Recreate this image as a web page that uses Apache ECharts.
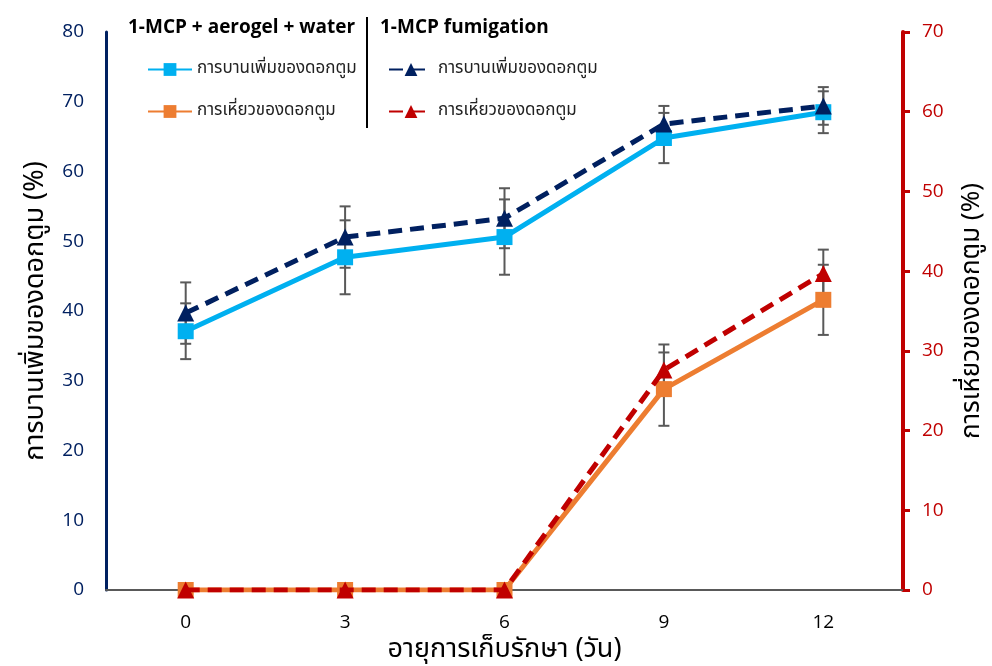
<!DOCTYPE html>
<html>
<head>
<meta charset="utf-8">
<script src="https://cdn.jsdelivr.net/npm/echarts@6/dist/echarts.min.js"></script>
<style>
  html, body { margin: 0; padding: 0; background: #fff; }
  #chart { width: 992px; height: 666px; }
</style>
</head>
<body>
<div id="chart"></div>
<script>
// Storage days
const days = ['0', '3', '6', '9', '12'];

// Bud opening (%), left axis
const openAerogel = [37.1, 47.7, 50.6, 64.8, 68.5];
const openAerogelErr = [4.0, 5.3, 5.4, 3.6, 3.0];
const openFumigation = [39.7, 50.6, 53.3, 66.8, 69.4];
const openFumigationErr = [4.4, 4.4, 4.3, 2.6, 2.7];

// Bud wilting (%), right axis
const wiltAerogel = [0, 0, 0, 25.2, 36.4];
const wiltAerogelErr = [0, 0, 0, 4.6, 4.4];
const wiltFumigation = [0, 0, 0, 27.6, 39.7];
const wiltFumigationErr = [0, 0, 0, 3.2, 3.0];

const leftTicks = { min: 0, max: 80, interval: 10 };
const rightTicks = { min: 0, max: 70, interval: 10 };

const labelOpen = 'การบานเพิ่มของดอกตูม';
const labelWilt = 'การเหี่ยวของดอกตูม';
const groupAerogel = '1-MCP + aerogel + water';
const groupFumigation = '1-MCP fumigation';

const numFont = '"Open Sans", "Liberation Sans", sans-serif';
const thaiFont = '"Noto Sans Thai", "Noto Sans", "Open Sans", sans-serif';

const C_BLUE = '#00B0F0', C_NAVY = '#002060', C_ORANGE = '#ED7D31', C_RED = '#C00000';

function errData(vals, errs) {
  return vals.map((v, i) => [i, v, errs[i]]);
}

function errorBars(yAxisIndex, vals, errs) {
  return {
    type: 'custom',
    yAxisIndex: yAxisIndex,
    z: 1,
    silent: true,
    data: errData(vals, errs),
    renderItem: function (params, api) {
      const x = api.value(0), y = api.value(1), e = api.value(2);
      if (!e) return null;
      const top = api.coord([x, y + e]);
      const bot = api.coord([x, y - e]);
      const w = 5.5;
      const style = { stroke: '#595959', lineWidth: 2 };
      return {
        type: 'group',
        children: [
          { type: 'line', shape: { x1: top[0], y1: top[1], x2: bot[0], y2: bot[1] }, style: style },
          { type: 'line', shape: { x1: top[0] - w, y1: top[1], x2: top[0] + w, y2: top[1] }, style: style },
          { type: 'line', shape: { x1: bot[0] - w, y1: bot[1], x2: bot[0] + w, y2: bot[1] }, style: style }
        ]
      };
    }
  };
}

function lineSeries(name, yAxisIndex, data, color, dashed, symbol) {
  return {
    name: name,
    type: 'line',
    yAxisIndex: yAxisIndex,
    data: data,
    z: dashed ? 4 : 3,
    symbol: symbol,
    symbolSize: symbol === 'rect' ? 16 : 17,
    itemStyle: { color: color },
    lineStyle: { color: color, width: 5, type: dashed ? [14, 8] : 'solid' },
    emphasis: { disabled: true }
  };
}

const nameA_open = 'A|' + labelOpen, nameA_wilt = 'A|' + labelWilt;
const nameF_open = 'F|' + labelOpen, nameF_wilt = 'F|' + labelWilt;

const legendCommon = {
  orient: 'vertical',
  itemWidth: 44,
  itemHeight: 16,
  itemGap: 25,
  formatter: n => n.split('|')[1],
  textStyle: { fontFamily: thaiFont, fontSize: 17, color: '#222' },
  selectedMode: false
};

const chart = echarts.init(document.getElementById('chart'), null, { renderer: 'canvas' });
chart.setOption({
  animation: false,
  backgroundColor: '#fff',
  grid: { left: 106, right: 89, top: 32, bottom: 76, containLabel: false, outerBoundsMode: 'none' },
  legend: [
    Object.assign({}, legendCommon, { data: [nameA_open, nameA_wilt], left: 142, top: 56 }),
    Object.assign({}, legendCommon, { data: [nameF_open, nameF_wilt], left: 383, top: 56 })
  ],
  graphic: [
    { type: 'text', left: 128, top: 18, style: { text: groupAerogel, font: 'bold 19px ' + numFont, fill: '#000' } },
    { type: 'text', left: 380, top: 18, style: { text: groupFumigation, font: 'bold 19px ' + numFont, fill: '#000' } },
    { type: 'line', shape: { x1: 367, y1: 17, x2: 367, y2: 128 }, style: { stroke: '#000', lineWidth: 2 } }
  ],
  xAxis: {
    type: 'category',
    data: days,
    boundaryGap: true,
    axisLine: { lineStyle: { color: '#595959', width: 2 } },
    axisTick: { show: false },
    axisLabel: { fontFamily: numFont, fontSize: 19, color: '#000', margin: 23 },
    name: 'อายุการเก็บรักษา (วัน)',
    nameLocation: 'middle',
    nameGap: 48,
    nameTextStyle: { fontFamily: thaiFont, fontSize: 27, color: '#000' }
  },
  yAxis: [
    {
      type: 'value',
      position: 'left',
      min: leftTicks.min, max: leftTicks.max, interval: leftTicks.interval,
      splitLine: { show: false },
      axisLine: { show: true, lineStyle: { color: C_NAVY, width: 3 } },
      axisTick: { show: false },
      axisLabel: { fontFamily: numFont, fontSize: 19, color: C_NAVY, margin: 22 },
      name: labelOpen + ' (%)',
      nameLocation: 'middle',
      nameRotate: 90,
      nameGap: 52,
      nameTextStyle: { fontFamily: thaiFont, fontSize: 27, color: '#000' }
    },
    {
      type: 'value',
      position: 'right',
      min: rightTicks.min, max: rightTicks.max, interval: rightTicks.interval,
      splitLine: { show: false },
      axisLine: { show: true, lineStyle: { color: C_RED, width: 4 } },
      axisTick: { show: true, inside: false, length: 7, lineStyle: { color: C_RED, width: 3 } },
      axisLabel: { fontFamily: numFont, fontSize: 19, color: C_RED, margin: 19 },
      name: labelWilt + ' (%)',
      nameLocation: 'middle',
      nameRotate: 90,
      nameGap: 58,
      nameTextStyle: { fontFamily: thaiFont, fontSize: 26, color: '#000' }
    }
  ],
  series: [
    errorBars(0, openAerogel, openAerogelErr),
    errorBars(0, openFumigation, openFumigationErr),
    errorBars(1, wiltAerogel, wiltAerogelErr),
    errorBars(1, wiltFumigation, wiltFumigationErr),
    lineSeries(nameA_open, 0, openAerogel, C_BLUE, false, 'rect'),
    lineSeries(nameA_wilt, 1, wiltAerogel, C_ORANGE, false, 'rect'),
    lineSeries(nameF_open, 0, openFumigation, C_NAVY, true, 'triangle'),
    lineSeries(nameF_wilt, 1, wiltFumigation, C_RED, true, 'triangle')
  ]
});
</script>
</body>
</html>
